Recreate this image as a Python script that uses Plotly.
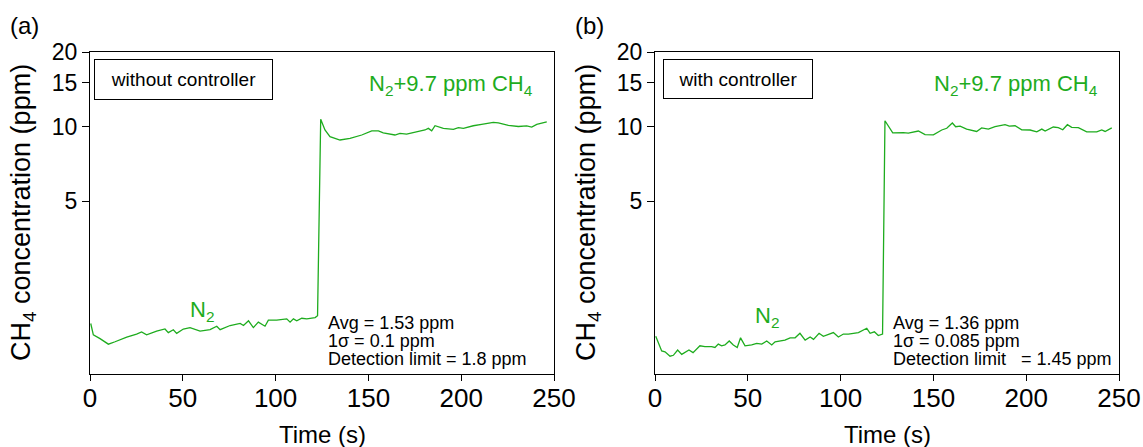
import plotly.graph_objects as go
import numpy as np

# ---- data ----
time_a = [0.4, 1.8, 5.4, 9.9, 13.5, 19.8, 25.1, 27.8, 30.5, 35.9, 40.4, 42.2, 44.9, 46.7, 50.3,
          53.9, 59.3, 64.7, 68.3, 70.1, 75.5, 80.9, 82.7, 85.4, 88.0, 90.7, 94.3, 96.1, 100.6,
          106.0, 107.8, 109.6, 111.4, 114.1, 116.8, 121.3, 122.6,
          124.3, 126.6, 129.3, 134.7, 140.1, 146.4, 151.8, 155.4, 158.0, 164.3, 167.0, 170.6,
          175.1, 180.5, 182.3, 184.1, 185.9, 190.4, 195.8, 198.5, 201.2, 206.5, 211.0, 217.3,
          220.0, 225.4, 230.8, 235.3, 238.0, 240.7, 246.1]
conc_a = [1.60, 1.44, 1.39, 1.32, 1.35, 1.41, 1.45, 1.48, 1.44, 1.49, 1.52, 1.47, 1.51, 1.46, 1.52,
          1.54, 1.49, 1.51, 1.56, 1.51, 1.57, 1.60, 1.57, 1.64, 1.54, 1.62, 1.56, 1.65, 1.65,
          1.67, 1.62, 1.67, 1.64, 1.68, 1.67, 1.69, 1.72,
          10.7, 9.68, 9.10, 8.82, 8.95, 9.24, 9.61, 9.61, 9.43, 9.24, 9.38, 9.32,
          9.50, 9.68, 9.83, 9.61, 10.07, 9.83, 9.74, 9.89, 9.83, 10.07, 10.2, 10.4,
          10.35, 10.1, 10.0, 10.05, 9.95, 10.2, 10.45]

time_b = [0.4, 3.6, 5.4, 8.1, 9.9, 12.2, 14.4, 18.3, 20.5, 24.2, 26.9, 30.5, 32.3, 34.1, 35.9,
          37.7, 40.0, 42.2, 44.3, 46.1, 48.5, 52.1, 54.8, 57.5, 60.2, 62.9, 64.7, 70.0, 72.8,
          75.5, 78.1, 80.9, 83.6, 85.4, 88.4, 90.7, 96.1, 98.8, 101.5, 104.2, 109.6, 114.1,
          115.9, 118.2, 120.3, 122.6,
          123.9, 128.1, 133.8, 136.5, 141.9, 145.5, 150.0, 154.5, 157.2, 160.2, 162.0, 164.4,
          167.9, 173.3, 176.0, 179.6, 183.2, 188.6, 190.9, 194.0, 197.6, 202.1, 205.7, 208.4,
          210.2, 214.6, 217.3, 219.7, 222.2, 224.5, 228.1, 232.6, 238.0, 240.7, 242.5, 246.1]
conc_b = [1.42, 1.24, 1.23, 1.18, 1.19, 1.25, 1.20, 1.25, 1.22, 1.30, 1.29, 1.29, 1.28, 1.32, 1.30,
          1.31, 1.36, 1.31, 1.28, 1.40, 1.30, 1.31, 1.33, 1.32, 1.36, 1.31, 1.35, 1.37, 1.40,
          1.40, 1.46, 1.37, 1.41, 1.38, 1.46, 1.42, 1.47, 1.41, 1.45, 1.45, 1.47, 1.53,
          1.46, 1.48, 1.43, 1.45,
          10.55, 9.42, 9.44, 9.40, 9.59, 9.27, 9.25, 9.68, 9.84, 10.33, 9.98, 10.04,
          9.76, 9.55, 9.87, 9.76, 9.98, 10.17, 10.04, 10.07, 9.70, 9.68, 9.52, 9.76,
          9.58, 9.95, 9.89, 9.70, 10.17, 9.92, 9.89, 9.52, 9.52, 9.68, 9.55, 9.87]

x_ticks = [0, 50, 100, 150, 200, 250]
y_ticks = [5, 10, 15, 20]
panel_labels = ["(a)", "(b)"]
box_labels = ["without controller", "with controller"]
stats_a = ["Avg = 1.53 ppm", "1σ = 0.1 ppm", "Detection limit = 1.8 ppm"]
stats_b = ["Avg = 1.36 ppm", "1σ = 0.085 ppm", "Detection limit\u00a0\u00a0\u00a0= 1.45 ppm"]

FONT = "Liberation Sans, Arial, Helvetica, sans-serif"
GREEN = "rgb(30,172,30)"
W, H = 1143, 447

fig = go.Figure()
fig.add_trace(go.Scatter(x=time_a, y=conc_a, mode="lines", line=dict(color=GREEN, width=1.3),
                         xaxis="x", yaxis="y", showlegend=False))
fig.add_trace(go.Scatter(x=time_b, y=conc_b, mode="lines", line=dict(color=GREEN, width=1.3),
                         xaxis="x2", yaxis="y2", showlegend=False))

def xax(domain, anchor):
    return dict(domain=domain, anchor=anchor, range=[0, 250], tickvals=x_ticks,
                ticks="outside", ticklen=6, tickwidth=1, tickcolor="black",
                ticklabelstandoff=-5,
                showline=True, linecolor="black", linewidth=1.2, mirror=True,
                showgrid=False, zeroline=False, automargin=False,
                tickfont=dict(family=FONT, size=26, color="black"))

def yax(domain, anchor):
    return dict(domain=domain, anchor=anchor, type="log", range=[0, np.log10(20)],
                tickvals=y_ticks, ticktext=[str(v) for v in y_ticks],
                ticks="outside", ticklen=7, tickwidth=1, tickcolor="black",
                showline=True, linecolor="black", linewidth=1.2, mirror=True,
                showgrid=False, zeroline=False, automargin=False,
                tickfont=dict(family=FONT, size=23, color="black"))

xa = [90 / W, 554 / W]
xb = [655 / W, 1119 / W]
yd = [(H - 374) / H, (H - 52) / H]

fig.update_layout(
    width=W, height=H,
    margin=dict(l=0, r=0, t=0, b=0),
    paper_bgcolor="white", plot_bgcolor="white",
    xaxis=xax(xa, "y"), yaxis=yax(yd, "x"),
    xaxis2=xax(xb, "y2"), yaxis2=yax(yd, "x2"),
    font=dict(family=FONT, color="black"),
)

ann = []
for i, (xd, xr, yr) in enumerate([(xa, "x", "y"), (xb, "x2", "y2")]):
    cx_px = (xd[0] + xd[1]) / 2 * W
    # panel letter
    ann.append(dict(text=panel_labels[i], xref="paper", yref="paper",
                    x=(xd[0] * W - 82) / W, y=1 - 26 / H, xanchor="left", yanchor="middle",
                    showarrow=False, font=dict(size=24)))
    # x title
    ann.append(dict(text="Time (s)", xref="paper", yref="paper", x=cx_px / W, y=1 - 434 / H,
                    xanchor="center", yanchor="middle", showarrow=False, font=dict(size=24)))
    # y title
    ann.append(dict(text="CH<sub>4</sub> concentration (ppm)", xref="paper", yref="paper",
                    x=(xd[0] * W - 67) / W, y=1 - 213 / H, xanchor="center", yanchor="middle",
                    textangle=-90, showarrow=False, font=dict(size=27)))
    # boxed label
    bw, bh = (179, 41) if i == 0 else (150, 40)
    bx = 4 if i == 0 else 8
    ann.append(dict(text=box_labels[i], xref=xr + " domain", yref=yr + " domain",
                    x=bx / 464, y=1 - 6.5 / 322, xanchor="left", yanchor="top",
                    width=bw - 2, height=bh - 2, borderpad=0, bordercolor="black", borderwidth=1,
                    bgcolor="white", showarrow=False, font=dict(size=19)))
    # green labels
    ann.append(dict(text="N<sub>2</sub>+9.7 ppm CH<sub>4</sub>", xref=xr, yref=yr + " domain",
                    x=239.5, y=0.897, xanchor="right", yanchor="middle", showarrow=False,
                    font=dict(size=22, color=GREEN)))
    ann.append(dict(text="N<sub>2</sub>", xref=xr, yref=yr + " domain",
                    x=52.8, y=(0.195 if i == 0 else 0.177), xanchor="left", yanchor="middle",
                    showarrow=False, font=dict(size=22, color=GREEN)))
    # stats
    stats = stats_a if i == 0 else stats_b
    for j, s in enumerate(stats):
        ann.append(dict(text=s, xref=xr, yref=yr + " domain", x=127.0,
                        y=(51 - 18 * j) / 322, xanchor="left", yanchor="middle",
                        showarrow=False, font=dict(size=18)))

fig.update_layout(annotations=ann)
fig.write_html("out.html", config={"displayModeBar": False},
               post_script="document.body.style.margin='0';")
